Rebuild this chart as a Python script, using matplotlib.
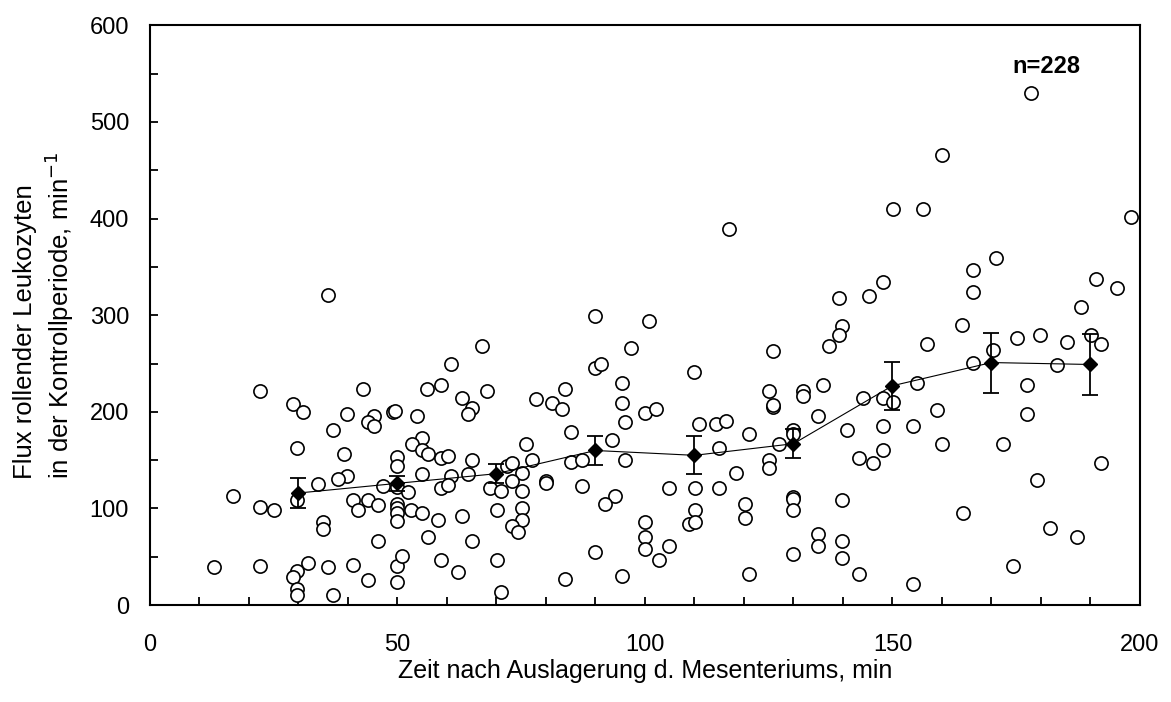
import matplotlib.pyplot as plt
from matplotlib.ticker import MultipleLocator

plt.rcParams['font.family'] = ['Liberation Sans', 'DejaVu Sans']

# single measurements (time, flux)
zeit = [36, 67, 60.8, 22.2, 43.1, 56, 58.9, 63, 65, 64.2, 29, 31, 39.9, 49.2, 49.6,
        53.9, 45.3, 44, 45.3, 37, 29.8, 54.9, 52.9, 54.9, 56.1, 39.2, 50, 50, 58.9, 60.3,
        65, 54.9, 60.9, 64.2, 39.9, 37.9, 33.9, 47.1, 50, 52.1, 58.9, 60.3, 29.8, 16.8, 22.2,
        25.1, 41.1, 44, 46, 42, 50, 50, 50, 50, 52.7, 54.9, 58.1, 63, 35, 35,
        46, 56.1, 65, 12.9, 22.2, 31.9, 36, 41.1, 50, 51, 58.9, 62.2, 29.8, 29, 44,
        50, 29.8, 29.8, 37,
        89.9, 100.8, 97.2, 125.9, 89.9, 91.1, 109.9, 68.1, 95.3, 83.9, 77.9, 81.2, 83.2, 95.3, 100.1,
        102.2, 125.1, 125.9, 125.9, 132, 132, 96, 85.1, 93.3, 75.9, 111, 114.3, 116.3, 121, 130,
        130, 127.1, 114.9, 77.1, 85.1, 87.2, 96, 72.1, 73.1, 75.1, 125.1, 125.1, 118.3, 73.1, 68.8,
        71, 75.1, 80, 80, 87.2, 104.9, 110.2, 114.9, 94, 91.9, 70.2, 75.1, 75.1, 73.1, 74.3,
        100.1, 100.1, 100.1, 102.8, 104.9, 110.2, 108.9, 110.2, 120.2, 120.2, 130, 130, 130, 130, 70.2,
        89.9, 83.9, 95.3, 121, 70.9, 117,
        178, 160.1, 150.2, 156.2, 198.1, 171, 166.2, 166.2, 148.1, 145.3, 139.3, 191.1, 195.4, 188.1,
        164.1, 139.9, 139.3, 137.2, 156.9, 170.4, 175.1, 179.9, 185.2, 190.1, 192.1, 166.2, 183.2, 177.1,
        154.9, 135.9, 144.1, 148.1, 150.2, 134.9, 159.1, 177.1, 140.9, 148.1, 154.2, 160.1, 172.3, 148.1,
        143.3, 146.1, 192.1, 179.1, 139.9, 164.2, 134.9, 134.9, 139.9, 139.9, 143.3, 154.2, 174.3, 181.9,
        187.2]
flux = [321, 268, 249, 222, 224, 224, 228, 214, 204, 198, 208, 200, 198, 200, 201,
        196, 196, 189, 185, 181, 163, 173, 167, 160, 156, 156, 153, 144, 152, 154,
        150, 136, 134, 136, 134, 131, 125, 123, 122, 117, 121, 124, 109, 113, 102,
        98, 109, 109, 104, 98, 105, 100, 95, 87, 98, 95, 88, 92, 86, 79,
        66, 70, 66, 39, 41, 44, 39, 42, 41, 51, 47, 34, 35, 29, 26,
        24, 17, 10, 10,
        299, 294, 266, 263, 245, 249, 241, 222, 230, 224, 213, 209, 203, 209, 199,
        203, 222, 205, 207, 222, 216, 189, 179, 171, 167, 187, 187, 191, 177, 181,
        177, 167, 163, 150, 148, 150, 150, 144, 147, 137, 150, 142, 137, 128, 121,
        118, 118, 128, 126, 123, 121, 121, 121, 113, 105, 98, 100, 88, 82, 76,
        86, 70, 58, 47, 61, 98, 84, 86, 105, 90, 112, 110, 98, 53, 47,
        55, 27, 30, 32, 14, 389,
        530, 466, 410, 410, 402, 359, 347, 324, 334, 320, 318, 337, 328, 308,
        290, 289, 280, 268, 270, 264, 276, 280, 272, 280, 270, 251, 248, 228,
        230, 228, 214, 214, 210, 196, 202, 198, 181, 185, 185, 167, 167, 160,
        152, 147, 147, 129, 109, 95, 74, 61, 66, 49, 32, 22, 41, 80,
        70]

# group means with standard error
mittel_zeit = [30, 50, 70, 90, 110, 130, 150, 170, 190]
mittel_flux = [116, 126, 136, 160, 155, 167, 227, 251, 249]
mittel_sem = [16, 8, 10, 15, 19.5, 15, 25, 31, 32]

fig = plt.figure(figsize=(11.71, 7.02), dpi=100)
ax = fig.add_axes([0.128, 0.138, 0.8455, 0.826])

ax.plot(zeit, flux, 'o', ms=9.5, mfc='white', mec='black', mew=1.2, zorder=2)
ax.plot(mittel_zeit, mittel_flux, '-', color='black', lw=0.8, zorder=3)
ax.errorbar(mittel_zeit, mittel_flux, yerr=mittel_sem, fmt='D', color='black',
            ms=7, ecolor='black', elinewidth=1.3, capsize=6, capthick=1.3, zorder=4)

ax.text(181, 557, 'n=228', ha='center', va='center', fontsize=17, fontweight='bold')

ax.set_xlim(0, 200)
ax.set_ylim(0, 600)
ax.xaxis.set_major_locator(MultipleLocator(50))
ax.xaxis.set_minor_locator(MultipleLocator(10))
ax.yaxis.set_major_locator(MultipleLocator(100))
ax.yaxis.set_minor_locator(MultipleLocator(50))
ax.tick_params(which='both', direction='in', length=6, width=1.3, top=False, right=False)
ax.tick_params(axis='x', which='major', pad=21, labelsize=17)
ax.tick_params(axis='y', which='major', pad=15, labelsize=17)
for s in ax.spines.values():
    s.set_linewidth(1.5)

ax.set_xlabel('Zeit nach Auslagerung d. Mesenteriums, min', fontsize=18, labelpad=2)
ax.set_ylabel('Flux rollender Leukozyten\nin der Kontrollperiode, min$^{-1}$',
              fontsize=18.5, labelpad=10, multialignment='left')

fig.savefig('out.png', dpi=100)
